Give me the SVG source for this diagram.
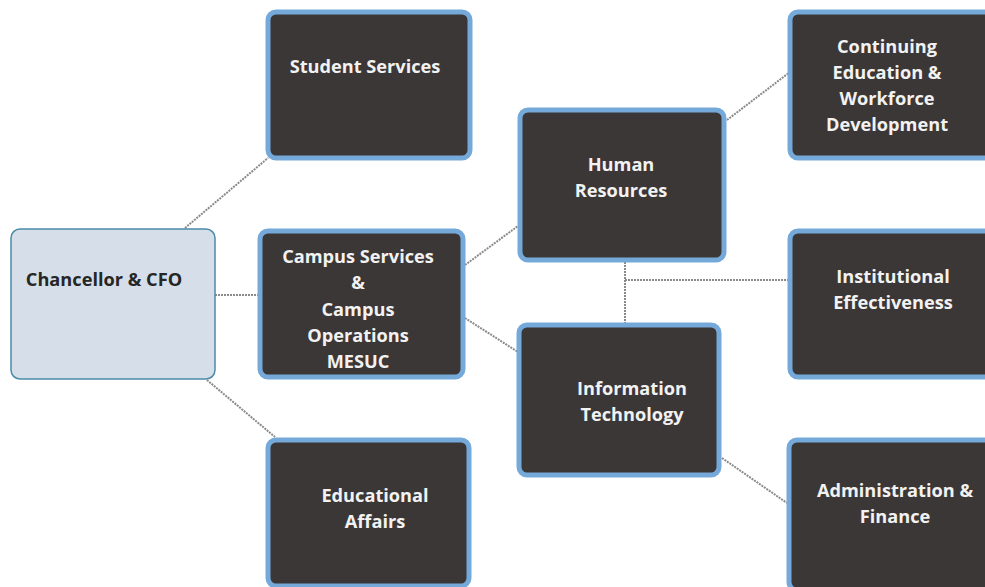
<svg xmlns="http://www.w3.org/2000/svg" width="985" height="587" viewBox="0 0 985 587">
<style>
.box{fill:#3b3736;stroke:#74a9da;stroke-width:5}
.root{fill:#d6dfe9;stroke:#4a8aa8;stroke-width:1.5}
.t{font-family:"Open Sans",Lato,sans-serif;font-weight:bold;font-size:18.2px;fill:#f2f2f2;text-anchor:middle}
.tr{font-family:"Open Sans",Lato,sans-serif;font-weight:bold;font-size:18.2px;fill:#262626;text-anchor:middle}
.c{fill:none;stroke:#8a8a8a;stroke-width:2;stroke-dasharray:2 1}
</style>
<rect width="985" height="587" fill="#ffffff"/>
<g id="connectors">
<line class="c" x1="185" y1="228" x2="268" y2="158"/>
<line class="c" x1="215" y1="295" x2="258" y2="295"/>
<line class="c" x1="207" y1="380" x2="275" y2="437"/>
<line class="c" x1="465" y1="265" x2="518" y2="226"/>
<line class="c" x1="465" y1="318" x2="518" y2="352"/>
<line class="c" x1="727" y1="120" x2="790" y2="72"/>
<line class="c" x1="625" y1="262" x2="625" y2="323"/>
<line class="c" x1="625" y1="280" x2="788" y2="280"/>
<line class="c" x1="722" y1="458" x2="787" y2="503"/>
</g>
<g id="chancellor">
<rect class="root" x="11" y="229" width="204" height="150" rx="9"/>
<text class="tr" x="104" y="286">Chancellor &amp; CFO</text>
</g>
<g id="student-services">
<rect class="box" x="268" y="12" width="202" height="146" rx="8"/>
<text class="t" x="365" y="73">Student Services</text>
</g>
<g id="campus-services">
<rect class="box" x="260" y="231" width="203" height="146" rx="8"/>
<text class="t" x="358" y="263">Campus Services</text>
<text class="t" x="358" y="289">&amp;</text>
<text class="t" x="358" y="316">Campus</text>
<text class="t" x="358" y="342">Operations</text>
<text class="t" x="358" y="368">MESUC</text>
</g>
<g id="educational-affairs">
<rect class="box" x="268" y="440" width="201" height="146" rx="8"/>
<text class="t" x="375" y="502">Educational</text>
<text class="t" x="375" y="528">Affairs</text>
</g>
<g id="human-resources">
<rect class="box" x="520" y="110" width="204" height="150" rx="8"/>
<text class="t" x="621" y="171">Human</text>
<text class="t" x="621" y="197">Resources</text>
</g>
<g id="information-technology">
<rect class="box" x="519" y="325" width="200" height="150" rx="8"/>
<text class="t" x="632" y="395">Information</text>
<text class="t" x="632" y="421">Technology</text>
</g>
<g id="continuing-education">
<rect class="box" x="790" y="12" width="205" height="146" rx="8"/>
<text class="t" x="887" y="53">Continuing</text>
<text class="t" x="887" y="79">Education &amp;</text>
<text class="t" x="887" y="105">Workforce</text>
<text class="t" x="887" y="131">Development</text>
</g>
<g id="institutional-effectiveness">
<rect class="box" x="790" y="231" width="205" height="146" rx="8"/>
<text class="t" x="893" y="283">Institutional</text>
<text class="t" x="893" y="309">Effectiveness</text>
</g>
<g id="administration-finance">
<rect class="box" x="789" y="440" width="206" height="150" rx="8"/>
<text class="t" x="895" y="497">Administration &amp;</text>
<text class="t" x="895" y="523">Finance</text>
</g>
</svg>
